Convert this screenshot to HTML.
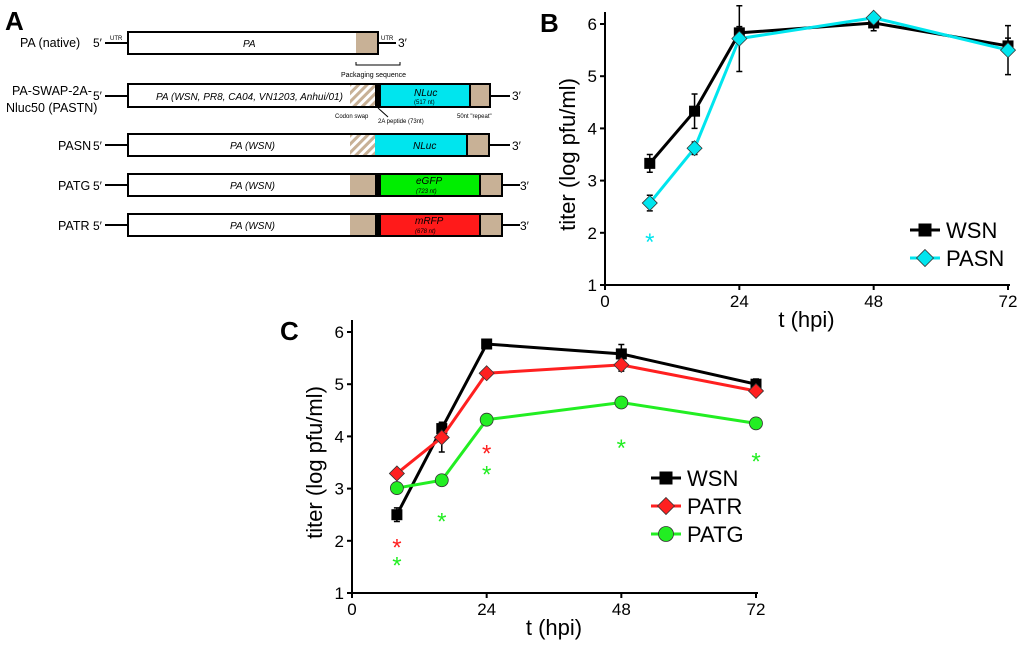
<!DOCTYPE html>
<html><head><meta charset="utf-8"><style>
body{margin:0;background:#fff;width:1024px;height:640px;overflow:hidden}
svg{font-family:"Liberation Sans",sans-serif}
</style></head><body>
<svg width="1024" height="640" viewBox="0 0 1024 640">
<defs>
<pattern id="hatch" width="6" height="6" patternUnits="userSpaceOnUse" patternTransform="rotate(45)">
<rect width="6" height="6" fill="#fff"/><rect width="3" height="6" fill="#c8b196"/></pattern>
</defs>
<g id="panelA">
<text x="5" y="30" font-size="26" font-weight="bold">A</text>
<g>
<text x="20" y="47" font-size="12.5">PA (native)</text><text x="93" y="47" font-size="12">5′</text>
<line x1="105" y1="43" x2="128" y2="43" stroke="#000" stroke-width="2"/>
<text x="110" y="40" font-size="6">UTR</text>
<rect x="128" y="32" width="250" height="22" fill="#fff" stroke="#000" stroke-width="2"/>
<rect x="356" y="33" width="21" height="20" fill="#c8b196"/>
<text x="243" y="47" font-size="10" font-style="italic">PA</text>
<line x1="378" y1="43" x2="396" y2="43" stroke="#000" stroke-width="2"/>
<text x="381" y="40" font-size="6">UTR</text><text x="398" y="47" font-size="12">3′</text>
<path d="M356 62 V65 H400 V62" fill="none" stroke="#000" stroke-width="1"/>
<text x="341" y="77" font-size="7">Packaging sequence</text>
</g>
<g>
<text x="12" y="95" font-size="12.5">PA-SWAP-2A-</text><text x="6" y="112" font-size="12.5">Nluc50 (PASTN)</text>
<text x="93" y="100" font-size="12">5′</text>
<line x1="105" y1="96" x2="128" y2="96" stroke="#000" stroke-width="2"/>
<rect x="128" y="84" width="362" height="23" fill="#fff" stroke="#000" stroke-width="2"/>
<rect x="350" y="85" width="25" height="21" fill="url(#hatch)"/>
<rect x="375" y="85" width="6" height="21" fill="#000"/>
<rect x="381" y="85" width="88" height="21" fill="#00e5ee"/>
<rect x="469" y="84" width="2" height="23" fill="#000"/>
<rect x="471" y="85" width="18" height="21" fill="#c8b196"/>
<text x="156" y="100" font-size="10" font-style="italic">PA (WSN, PR8, CA04, VN1203, Anhui/01)</text>
<text x="414" y="96" font-size="10" font-style="italic">NLuc</text><text x="414" y="104" font-size="6">(517 nt)</text>
<line x1="490" y1="96" x2="510" y2="96" stroke="#000" stroke-width="2"/><text x="512" y="100" font-size="12">3′</text>
<text x="335" y="118" font-size="6">Codon swap</text>
<line x1="378" y1="108" x2="388" y2="117" stroke="#000"/>
<text x="378" y="123" font-size="6">2A peptide (73nt)</text>
<text x="457" y="118" font-size="6">50nt "repeat"</text>
</g>
<g>
<text x="58" y="150" font-size="12.5">PASN</text><text x="93" y="150" font-size="12">5′</text>
<line x1="105" y1="145" x2="128" y2="145" stroke="#000" stroke-width="2"/>
<rect x="128" y="134" width="361" height="22" fill="#fff" stroke="#000" stroke-width="2"/>
<rect x="350" y="135" width="25" height="20" fill="url(#hatch)"/>
<rect x="375" y="135" width="91" height="20" fill="#00e5ee"/>
<rect x="466" y="134" width="2" height="22" fill="#000"/>
<rect x="468" y="135" width="20" height="20" fill="#c8b196"/>
<text x="230" y="149" font-size="10" font-style="italic">PA (WSN)</text>
<text x="413" y="149" font-size="10" font-style="italic">NLuc</text>
<line x1="489" y1="145" x2="510" y2="145" stroke="#000" stroke-width="2"/><text x="512" y="150" font-size="12">3′</text>
</g>
<g>
<text x="58" y="190" font-size="12.5">PATG</text><text x="93" y="190" font-size="12">5′</text>
<line x1="105" y1="185" x2="128" y2="185" stroke="#000" stroke-width="2"/>
<rect x="128" y="174" width="374" height="22" fill="#fff" stroke="#000" stroke-width="2"/>
<rect x="350" y="175" width="25" height="20" fill="#c8b196"/>
<rect x="375" y="175" width="6" height="20" fill="#000"/>
<rect x="381" y="175" width="98" height="20" fill="#00ee00"/>
<rect x="479" y="174" width="2" height="22" fill="#000"/>
<rect x="481" y="175" width="20" height="20" fill="#c8b196"/>
<text x="230" y="189" font-size="10" font-style="italic">PA (WSN)</text>
<text x="416" y="184" font-size="10" font-style="italic">eGFP</text><text x="416" y="193" font-size="6" font-style="italic">(723 nt)</text>
<line x1="502" y1="185" x2="520" y2="185" stroke="#000" stroke-width="2"/><text x="520" y="190" font-size="12">3′</text>
</g>
<g>
<text x="58" y="230" font-size="12.5">PATR</text><text x="93" y="230" font-size="12">5′</text>
<line x1="105" y1="225" x2="128" y2="225" stroke="#000" stroke-width="2"/>
<rect x="128" y="214" width="374" height="22" fill="#fff" stroke="#000" stroke-width="2"/>
<rect x="350" y="215" width="25" height="20" fill="#c8b196"/>
<rect x="375" y="215" width="6" height="20" fill="#000"/>
<rect x="381" y="215" width="98" height="20" fill="#ff1a1a"/>
<rect x="479" y="214" width="2" height="22" fill="#000"/>
<rect x="481" y="215" width="20" height="20" fill="#c8b196"/>
<text x="230" y="229" font-size="10" font-style="italic">PA (WSN)</text>
<text x="415" y="224" font-size="10" font-style="italic">mRFP</text><text x="415" y="233" font-size="6" font-style="italic">(678 nt)</text>
<line x1="502" y1="225" x2="520" y2="225" stroke="#000" stroke-width="2"/><text x="520" y="230" font-size="12">3′</text>
</g>
</g>
<g id="chartB"></g>
<g id="chartC"></g>
</svg>
<script>
const times = [8, 16, 24, 48, 72];
const xTicks = [0, 24, 48, 72];
const yTicks = [1, 2, 3, 4, 5, 6];
const bWSN = [3.33, 4.33, 5.83, 6.02, 5.58];
const bWSNerr = [0.17, 0.33, 0.12, 0.15, 0.15];
const bPASN = [2.57, 3.62, 5.72, 6.12, 5.5];
const bPASNerr = [0.15, 0.12, 0.63, 0.05, 0.47];
const bStars = [[8, 1.9]];
const cWSN = [2.5, 4.15, 5.77, 5.58, 5.0];
const cWSNerr = [0.13, 0.12, 0.05, 0.18, 0.1];
const cPATR = [3.29, 3.98, 5.21, 5.37, 4.87];
const cPATRerr = [0.06, 0.28, 0.04, 0.12, 0.04];
const cPATG = [3.01, 3.16, 4.32, 4.65, 4.25];
const cPATGerr = [0.08, 0.03, 0.03, 0.03, 0.1];
const cRedStars = [[8, 1.95], [24, 3.75]];
const cGreenStars = [[8, 1.6], [16, 2.45], [24, 3.35], [48, 3.85], [72, 3.6]];
const NS = 'http://www.w3.org/2000/svg';
function mk(parent, tag, attrs, text){
  const e = document.createElementNS(NS, tag);
  for (const k in attrs) e.setAttribute(k, attrs[k]);
  if (text !== undefined) e.textContent = text;
  parent.appendChild(e); return e;
}
function chart(g, o){
  const X = t => o.x0 + (o.x1 - o.x0) * t / 72;
  const Y = v => o.y1 - (o.y1 - o.y6) * (v - 1) / 5;
  let lbl = mk(g, 'text', {x:o.x0-o.lo, y:o.y6+8, 'font-size':26, 'font-weight':'bold'}, o.label);
  
  
  let ax = mk(g, 'path', {d:`M${o.x0} ${o.y6-12} V${o.y1} H${o.x1+2}`, fill:'none', stroke:'#000', 'stroke-width':2});
  
  
  yTicks.forEach(v => {
    mk(g, 'line', {x1:o.x0-5, x2:o.x0, y1:Y(v), y2:Y(v), stroke:'#000', 'stroke-width':2});
    let t = mk(g, 'text', {x:o.x0-8, y:Y(v)+6, 'font-size':17, 'text-anchor':'end'}, v);
    
    
  });
  xTicks.forEach(v => {
    mk(g, 'line', {x1:X(v), x2:X(v), y1:o.y1, y2:o.y1+5, stroke:'#000', 'stroke-width':2});
    let t = mk(g, 'text', {x:X(v), y:o.y1+22, 'font-size':17, 'text-anchor':'middle'}, v);
    
    
  });
  let xt = mk(g, 'text', {x:(o.x0+o.x1)/2, y:o.y1+42, 'font-size':22, 'text-anchor':'middle'}, 't (hpi)');
  
  
  const cy = (o.y6+o.y1)/2;
  let yt = mk(g, 'text', {x:o.x0-30, y:cy, 'font-size':22, 'text-anchor':'middle', transform:`rotate(-90 ${o.x0-30} ${cy})`}, 'titer (log pfu/ml)');
  
  
  function marker(p, shape, color, x, y, s){
    let m;
    if (shape === 'sq') m = mk(p, 'rect', {x:x-s, y:y-s, width:2*s, height:2*s, fill:'#000'});
    else if (shape === 'di') m = mk(p, 'path', {d:`M${x} ${y-s-2}L${x+s+2} ${y}L${x} ${y+s+2}L${x-s-2} ${y}Z`, fill:color, stroke:'#333', 'stroke-width':0.8});
    else m = mk(p, 'circle', {cx:x, cy:y, r:s+1, fill:color, stroke:'#333', 'stroke-width':0.8});
    return m;
  }
  o.series.forEach(s => {
    const sg = mk(g, 'g', {});
    
    
    s.vals.forEach((v, i) => {
      mk(sg, 'path', {d:`M${X(times[i])} ${Y(v-s.err[i])}V${Y(v+s.err[i])}M${X(times[i])-3} ${Y(v-s.err[i])}h6M${X(times[i])-3} ${Y(v+s.err[i])}h6`, stroke:'#000', 'stroke-width':1.5, fill:'none'});
    });
    let ln = mk(sg, 'polyline', {points:s.vals.map((v,i)=>X(times[i])+','+Y(v)).join(' '), fill:'none', stroke:s.color, 'stroke-width':3});
    
    
    s.vals.forEach((v, i) => {
      let m = marker(sg, s.shape, s.color, X(times[i]), Y(v), 5.5);
      
      
    });
  });
  o.stars.forEach(st => st.pts.forEach(p => {
    let t = mk(g, 'text', {x:X(p[0]), y:Y(p[1])+12, 'font-size':24, fill:st.color, 'text-anchor':'middle'}, '*');
    
    
  }));
  const lg = mk(g, 'g', {});
  
  
  o.series.forEach((s, i) => {
    const ly = o.ly + i * 28;
    mk(lg, 'line', {x1:o.lx, x2:o.lx+30, y1:ly, y2:ly, stroke:s.color, 'stroke-width':3});
    marker(lg, s.shape, s.color, o.lx+15, ly, 6.5);
    let t = mk(lg, 'text', {x:o.lx+36, y:ly+8, 'font-size':22}, s.name);
    
    
  });
}
chart(document.getElementById('chartB'), {label:'B', lo:65, x0:605, x1:1008, y6:24, y1:285, lx:910, ly:230,
  series:[{name:'WSN', vals:bWSN, err:bWSNerr, color:'#000', shape:'sq'},
          {name:'PASN', vals:bPASN, err:bPASNerr, color:'#00e5ee', shape:'di'}],
  stars:[{color:'#00e5ee', pts:bStars}]});
chart(document.getElementById('chartC'), {label:'C', lo:72, x0:352, x1:756, y6:332, y1:593, lx:651, ly:478,
  series:[{name:'WSN', vals:cWSN, err:cWSNerr, color:'#000', shape:'sq'},
          {name:'PATR', vals:cPATR, err:cPATRerr, color:'#ff2020', shape:'di'},
          {name:'PATG', vals:cPATG, err:cPATGerr, color:'#22ee22', shape:'ci'}],
  stars:[{color:'#ff2020', pts:cRedStars}, {color:'#22ee22', pts:cGreenStars}]});
</script>
</body></html>
